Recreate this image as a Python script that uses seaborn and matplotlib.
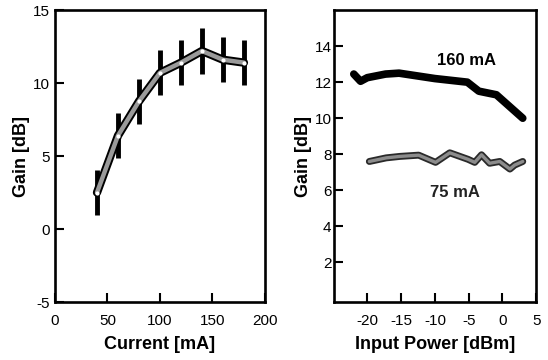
import matplotlib
matplotlib.use("Agg")
import matplotlib.pyplot as plt
import pandas as pd
import seaborn as sns

# left panel: gain vs. bias current
current = [40, 60, 80, 100, 120, 140, 160, 180]
gain_current = [2.5, 6.4, 8.75, 10.7, 11.4, 12.2, 11.6, 11.4]
gain_err = [1.55, 1.55, 1.55, 1.55, 1.55, 1.55, 1.55, 1.55]

# right panel: gain vs. input power
power_160 = [-22.0, -21.0, -20.0, -17.3, -15.3, -10.0, -5.2, -3.5, -0.9, 3.0]
gain_160 = [12.45, 12.05, 12.25, 12.45, 12.5, 12.2, 12.0, 11.5, 11.3, 10.0]
power_75 = [-19.7, -17.2, -15.2, -12.4, -9.9, -7.8, -5.1, -4.1, -3.1,
            -1.9, -0.4, 1.1, 1.8, 3.0]
gain_75 = [7.6, 7.8, 7.88, 7.95, 7.55, 8.08, 7.72, 7.55, 7.97,
           7.5, 7.6, 7.18, 7.4, 7.6]


def style_axes(ax, ypad):
    for sp in ax.spines.values():
        sp.set_visible(True)
        sp.set_linewidth(1.9)
        sp.set_color("black")
    ax.tick_params(direction="in", length=6.5, width=1.5, labelsize=11,
                   colors="black", labelcolor="black")
    ax.tick_params(axis="x", pad=8.5)
    ax.tick_params(axis="y", pad=ypad)


def main():
    sns.set_style("ticks")
    plt.rcParams["font.family"] = ["Liberation Sans", "DejaVu Sans"]
    plt.rcParams["axes.unicode_minus"] = False
    plt.rcParams["text.color"] = "black"
    plt.rcParams["axes.labelcolor"] = "black"

    fig = plt.figure(figsize=(5.48, 3.6), dpi=100, facecolor="white")
    ax1 = fig.add_axes([0.1004, 0.161, 0.383, 0.811])
    ax2 = fig.add_axes([0.6086, 0.161, 0.370, 0.811])

    df1 = pd.DataFrame({"current": current, "gain": gain_current})
    ax1.errorbar(current, gain_current, yerr=gain_err, fmt="none",
                 ecolor="black", elinewidth=3.5, capsize=0, zorder=2)
    sns.lineplot(data=df1, x="current", y="gain", ax=ax1, color="black",
                 linewidth=6, zorder=3)
    sns.lineplot(data=df1, x="current", y="gain", ax=ax1, color="#9a9a9a",
                 linewidth=3.2, zorder=4)
    ax1.scatter(current, gain_current, s=9, color="white", zorder=5,
                linewidths=0)
    ax1.set_xlim(0, 200)
    ax1.set_ylim(-5, 15)
    ax1.set_xticks([0, 50, 100, 150, 200])
    ax1.set_yticks([-5, 0, 5, 10, 15])
    ax1.set_xlabel("Current [mA]", fontsize=13, fontweight="bold", labelpad=6)
    ax1.set_ylabel("Gain [dB]", fontsize=13, fontweight="bold", labelpad=2)
    style_axes(ax1, 4)

    df160 = pd.DataFrame({"power": power_160, "gain": gain_160})
    df75 = pd.DataFrame({"power": power_75, "gain": gain_75})
    sns.lineplot(data=df160, x="power", y="gain", ax=ax2, color="black",
                 linewidth=5.5)
    sns.lineplot(data=df75, x="power", y="gain", ax=ax2, color="#2a2a2a",
                 linewidth=5)
    sns.lineplot(data=df75, x="power", y="gain", ax=ax2, color="#8c8c8c",
                 linewidth=2.4)
    ax2.text(-5.3, 13.2, "160 mA", ha="center", va="center", fontsize=12,
             fontweight="bold")
    ax2.text(-7.0, 5.9, "75 mA", ha="center", va="center", fontsize=12,
             fontweight="semibold", color="#222222")
    ax2.set_xlim(-25, 5)
    ax2.set_ylim(-0.2, 16)
    ax2.set_xticks([-20, -15, -10, -5, 0, 5])
    ax2.set_yticks([2, 4, 6, 8, 10, 12, 14])
    ax2.set_xlabel("Input Power [dBm]", fontsize=13, fontweight="bold",
                   labelpad=6)
    ax2.set_ylabel("Gain [dB]", fontsize=13, fontweight="bold", labelpad=2)
    style_axes(ax2, 1.5)

    fig.savefig("out.png", dpi=100, facecolor="white")


if __name__ == "__main__":
    main()
